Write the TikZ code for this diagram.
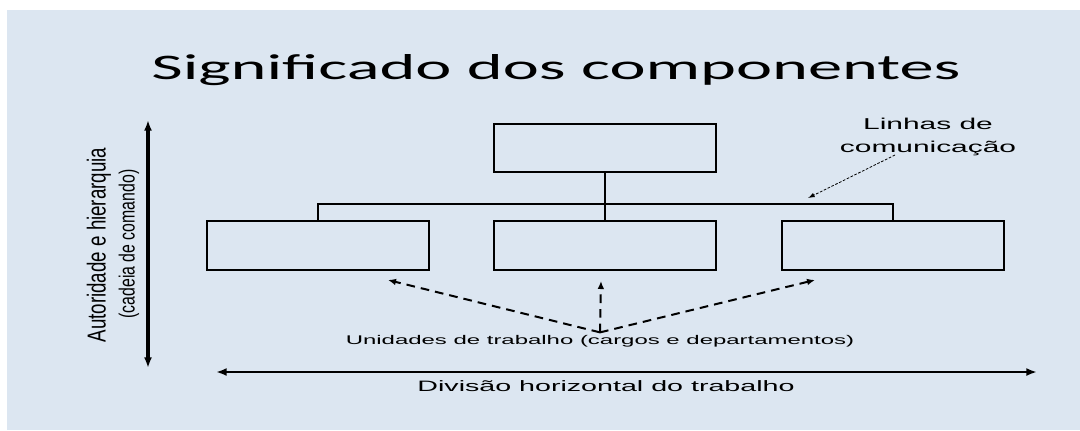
\documentclass[tikz,border=0pt]{standalone}
\usepackage{fontspec}
\setmainfont{Liberation Sans}
\newfontfamily\titlefont[FakeStretch=1.9]{Carlito}
\newfontfamily\widefont[FakeStretch=1.9]{Liberation Sans}
\newfontfamily\narrowfont[FakeStretch=0.72]{Liberation Sans}
\usetikzlibrary{arrows.meta}
\definecolor{slidebg}{RGB}{220,230,241}
\tikzset{every picture/.style={line width=0.75pt}}
\tikzset{
  unitbox/.style={draw, line width=1.5pt, minimum width=167pt, minimum height=36.5pt, inner sep=0pt},
  orgline/.style={line width=1.2pt},
  unitarrow/.style={line width=1.5pt, dash pattern=on 6.5pt off 4.5pt, -{Latex[length=6pt,width=5pt]}},
  commarrow/.style={line width=0.6pt, dash pattern=on 2pt off 1.2pt, -{Latex[length=5pt,width=3.5pt]}},
  axisarrow/.style={line width=1.6pt, {Latex[length=8pt,width=6pt]}-{Latex[length=8pt,width=6pt]}}
}

\begin{document}
\begin{tikzpicture}[x=0.75pt,y=0.75pt,yscale=-1,xscale=1]
\useasboundingbox (0,0) rectangle (1080,430);
%Shape: background
\fill[slidebg] (7,10) rectangle (1080,430);

% Text Node
\node[anchor=base, inner sep=0pt, font=\titlefont\fontsize{27}{32}\selectfont] (title) at (556,79) {Significado dos componentes};

%Shape: units
\node[unitbox] (topunit) at (605,148) {};
\node[unitbox] (leftunit) at (318,245.5) {};
\node[unitbox] (midunit) at (605,245.5) {};
\node[unitbox] (rightunit) at (893,245.5) {};

%Straight Lines: chain of command
\coordinate (bar) at (605,204);
\draw[orgline] (topunit.south) -- (midunit.north);
\draw[orgline] (leftunit.north) |- (bar) -| (rightunit.north);

% Text Node
\node[anchor=north, inner sep=0pt, align=center, font=\widefont\fontsize{11.8}{17}\selectfont] (commlabel) at (928,118) {Linhas de\\comunicação};
\coordinate (commtail) at (895,155);
\coordinate (commtip) at (808,198);
\draw[commarrow] (commtail) -- (commtip);

% Text Node
\node[anchor=base, inner sep=1.5pt, font=\widefont\fontsize{9.45}{11}\selectfont] (unitlabel) at (600,344) {Unidades de trabalho (cargos e departamentos)};
\coordinate (tipleft) at (388,280);
\coordinate (tipmid) at (601,281);
\coordinate (tipright) at (815,280);
\draw[unitarrow] (unitlabel.north) -- (tipleft);
\draw[unitarrow] (unitlabel.north) -- (tipmid);
\draw[unitarrow] (unitlabel.north) -- (tipright);

%Straight Lines: axes
\coordinate (vtop) at (148,120);
\coordinate (vbottom) at (148,368);
\draw[axisarrow, line width=2.4pt] (vtop) -- (vbottom);
\coordinate (hleft) at (216,372);
\coordinate (hright) at (1037,372);
\draw[axisarrow] (hleft) -- (hright);

% Text Node
\node[anchor=base, inner sep=0pt, font=\widefont\fontsize{11.3}{13}\selectfont] (divlabel) at (606,391) {Divisão horizontal do trabalho};
% Text Node
\node[rotate=90, inner sep=0pt, font=\narrowfont\fontsize{19.5}{22}\selectfont] (authlabel) at (99,245) {Autoridade e hierarquia};
\node[rotate=90, inner sep=0pt, font=\narrowfont\fontsize{16.5}{19}\selectfont] (chainlabel) at (129,244) {(cadeia de comando)};

\end{tikzpicture}
\end{document}
